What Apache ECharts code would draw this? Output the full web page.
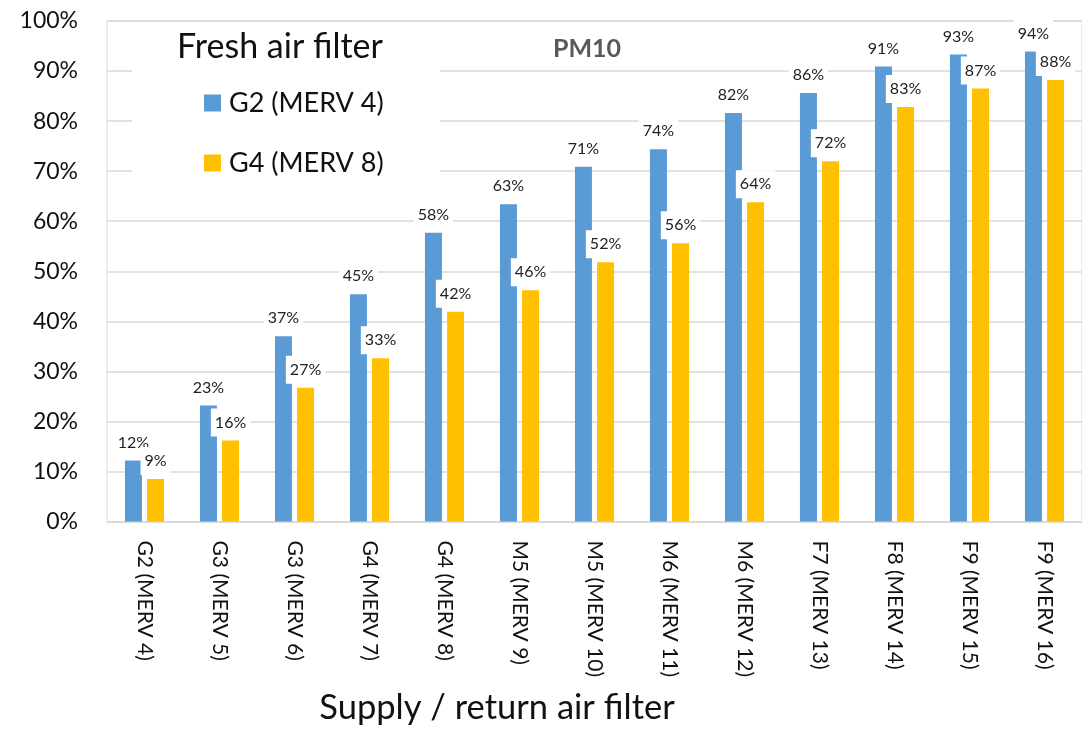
<!DOCTYPE html>
<html lang="en">

<head>
  <meta charset="UTF-8">
  <title>PM10</title>
  <style>
    html, body {
      margin: 0;
      padding: 0;
      background: #fff;
    }

    #chart {
      width: 1082px;
      height: 729px;
    }
  </style>
</head>

<body>
  <div id="chart"></div>

  <script src="https://cdn.jsdelivr.net/npm/echarts@6/dist/echarts.min.js"></script>
  <script>
    const categories = [
      'G2 (MERV 4)', 'G3 (MERV 5)', 'G3 (MERV 6)', 'G4 (MERV 7)', 'G4 (MERV 8)',
      'M5 (MERV 9)', 'M5 (MERV 10)', 'M6 (MERV 11)', 'M6 (MERV 12)', 'F7 (MERV 13)',
      'F8 (MERV 14)', 'F9 (MERV 15)', 'F9 (MERV 16)'
    ];
    const seriesNames = ['G2 (MERV 4)', 'G4 (MERV 8)'];
    const g2Values = [12.2, 23.2, 37, 45.4, 57.7, 63.4, 70.9, 74.4, 81.6, 85.6, 90.9, 93.3, 93.9];
    const g4Values = [8.5, 16.2, 26.7, 32.6, 41.9, 46.2, 51.8, 55.6, 63.8, 72, 82.8, 86.5, 88.2];
    const yTicks = [0, 10, 20, 30, 40, 50, 60, 70, 80, 90, 100];

    const font = 'Lato, "Liberation Sans", sans-serif';
    const colors = ['#5B9BD5', '#FFC000'];

    const chart = echarts.init(document.getElementById('chart'));

    const labelStyle = {
      show: true,
      position: 'top',
      distance: 4,
      formatter: p => Math.round(p.value) + '%',
      fontFamily: font,
      fontSize: 16,
      color: '#222',
      backgroundColor: '#fff',
      padding: [6, 4, 6, 4]
    };

    chart.setOption({
      animation: false,
      color: colors,
      textStyle: { fontFamily: font },
      grid: {
        left: 107,
        right: -10,
        top: 21,
        bottom: 207.5,
        show: true,
        borderColor: '#d9d9d9',
        borderWidth: 1,
        backgroundColor: 'transparent'
      },
      xAxis: {
        type: 'category',
        data: categories,
        axisLine: { lineStyle: { color: '#d9d9d9', width: 1.5 } },
        axisTick: { show: false },
        axisLabel: {
          rotate: -90,
          margin: 19,
          fontSize: 21,
          color: '#111',
          fontFamily: font,
          interval: 0
        }
      },
      yAxis: {
        type: 'value',
        min: yTicks[0],
        max: yTicks[yTicks.length - 1],
        interval: 10,
        axisLine: { show: false },
        axisTick: { show: false },
        splitLine: { lineStyle: { color: '#d9d9d9', width: 1.5 } },
        axisLabel: {
          formatter: '{value}%',
          margin: 29,
          fontSize: 23,
          color: '#111',
          fontFamily: font
        }
      },
      legend: {
        orient: 'vertical',
        left: 199,
        top: 84,
        icon: 'rect',
        itemWidth: 17,
        itemHeight: 17,
        itemGap: 32,
        z: 5,
        data: seriesNames,
        textStyle: {
          fontSize: 27,
          lineHeight: 28,
          color: '#111',
          fontFamily: font,
          padding: [0, 0, 0, 3]
        }
      },
      graphic: [
        {
          type: 'rect',
          z: 1,
          shape: { x: 132, y: 24, width: 308, height: 168 },
          style: { fill: '#fff' }
        },
        {
          type: 'text',
          z: 5,
          x: 280,
          y: 47,
          style: {
            text: 'Fresh air filter',
            fontFamily: font,
            fontSize: 34,
            fill: '#111',
            textAlign: 'center',
            textVerticalAlign: 'middle'
          }
        },
        {
          type: 'text',
          z: 5,
          x: 587,
          y: 49,
          style: {
            text: 'PM10',
            fontFamily: font,
            fontSize: 25,
            fontWeight: 'bold',
            fill: '#595959',
            textAlign: 'center',
            textVerticalAlign: 'middle'
          }
        },
        {
          type: 'text',
          z: 5,
          x: 497,
          y: 708,
          style: {
            text: 'Supply / return air filter',
            fontFamily: font,
            fontSize: 34.5,
            fill: '#111',
            textAlign: 'center',
            textVerticalAlign: 'middle'
          }
        }
      ],
      series: [
        {
          name: seriesNames[0],
          type: 'bar',
          data: g2Values,
          barWidth: 17,
          barGap: '30%',
          label: labelStyle
        },
        {
          name: seriesNames[1],
          type: 'bar',
          data: g4Values,
          barWidth: 17,
          barGap: '30%',
          label: labelStyle
        }
      ]
    });
  </script>
</body>

</html>
